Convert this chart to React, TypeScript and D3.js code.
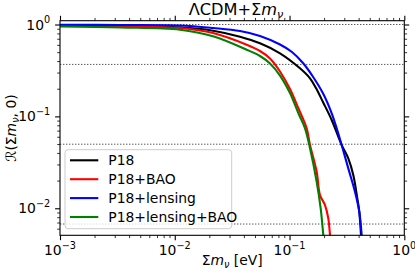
import React, { useEffect, useRef } from 'react';
import * as d3 from 'd3';

// R(Σm_ν, 0), [Σm_ν in eV, R]
const p18: [number, number][] = [
  [0.001, 0.9752], [0.003333, 0.9631], [0.01111, 0.9322], [0.02153, 0.8562], [0.03702, 0.7366],
  [0.05528, 0.6242], [0.08259, 0.4858], [0.1233, 0.3336], [0.1508, 0.2597], [0.17, 0.2036],
  [0.1956, 0.1433], [0.233, 0.09128], [0.2847, 0.04875], [0.3251, 0.03494], [0.3593, 0.02298],
  [0.3895, 0.01282], [0.4054, 0.00916], [0.4195, 0.00511], [0.4229, 0.0044],
];
const p18Bao: [number, number][] = [
  [0.001, 0.9801], [0.003333, 0.9631], [0.01111, 0.916], [0.02153, 0.8081], [0.04232, 0.6026],
  [0.05528, 0.5145], [0.06757, 0.4264], [0.08259, 0.3078], [0.1009, 0.1985], [0.1192, 0.1233],
  [0.1411, 0.07414], [0.1508, 0.04875], [0.1724, 0.02496], [0.1842, 0.01392], [0.2037, 0.01083],
  [0.2176, 0.00776], [0.2252, 0.00511], [0.2279, 0.0044],
];
const p18Lensing: [number, number][] = [
  [0.001, 0.9925], [0.003333, 0.9876], [0.01111, 0.9752], [0.02153, 0.916], [0.03702, 0.8497],
  [0.05528, 0.7496], [0.08259, 0.6056], [0.105, 0.5018], [0.131, 0.3809], [0.1601, 0.2702],
  [0.1956, 0.1782], [0.233, 0.108], [0.2576, 0.07414], [0.2847, 0.04875], [0.3251, 0.02719],
  [0.3718, 0.01512], [0.4054, 0.00916], [0.4254, 0.00511], [0.4297, 0.0044],
];
const p18LensingBao: [number, number][] = [
  [0.001, 0.9511], [0.003333, 0.9276], [0.01111, 0.8778], [0.02153, 0.744], [0.04232, 0.5316],
  [0.05528, 0.454], [0.06757, 0.3762], [0.08259, 0.2784], [0.1009, 0.1795], [0.1192, 0.1088],
  [0.1364, 0.07414], [0.1508, 0.04489], [0.1724, 0.01943], [0.1868, 0.00997], [0.1969, 0.00511],
  [0.1993, 0.0044],
];

const seriesNames = ['P18', 'P18+BAO', 'P18+lensing', 'P18+lensing+BAO'];
const seriesColors = ['#000000', '#ff0000', '#0000ff', '#008000'];
const seriesData = [p18, p18Bao, p18Lensing, p18LensingBao];

const levels = [1, 0.3679, 0.0498, 0.00674];
const xMajor = [-3, -2, -1, 0];
const yMajor = [0, -1, -2];

const left = 60, right = 404.3, top = 20.7, bottom = 235.3;
const font = "'DejaVu Sans', sans-serif";

const x = d3.scaleLog().domain([1e-3, 1]).range([left, right]);
const y = d3.scaleLog().domain([1.1, 0.00508]).range([top, bottom]);

const minors = (dom: number[]) => {
  const lo = Math.min(...dom), hi = Math.max(...dom);
  const out: number[] = [];
  for (let e = -4; e <= 0; e++)
    for (let k = 2; k <= 9; k++) {
      const v = k * Math.pow(10, e);
      if (v >= lo && v <= hi) out.push(v);
    }
  return out;
};

const App: React.FC = () => {
  const axesRef = useRef<SVGGElement | null>(null);

  useEffect(() => {
    if (!axesRef.current) return;
    const g = d3.select(axesRef.current);
    g.selectAll('*').remove();
    const add = (axis: any, transform: string, vals: number[], size: number, w: number) => {
      const a = g.append('g').attr('transform', transform)
        .call(axis.tickValues(vals).tickSize(size).tickFormat(() => ''));
      a.select('.domain').remove();
      a.selectAll('line').attr('stroke', '#000').attr('stroke-width', w);
    };
    const xm = xMajor.map(e => Math.pow(10, e));
    const ym = yMajor.map(e => Math.pow(10, e));
    add(d3.axisBottom(x), `translate(0,${bottom})`, xm, 4.9, 1.1);
    add(d3.axisBottom(x), `translate(0,${bottom})`, minors(x.domain()), 2.8, 0.8);
    add(d3.axisTop(x), `translate(0,${top})`, xm, 4.9, 1.1);
    add(d3.axisTop(x), `translate(0,${top})`, minors(x.domain()), 2.8, 0.8);
    add(d3.axisLeft(y), `translate(${left},0)`, ym, 4.9, 1.1);
    add(d3.axisLeft(y), `translate(${left},0)`, minors(y.domain()), 2.8, 0.8);
    add(d3.axisRight(y), `translate(${right},0)`, ym, 4.9, 1.1);
    add(d3.axisRight(y), `translate(${right},0)`, minors(y.domain()), 2.8, 0.8);
  }, []);

  const line = d3.line<[number, number]>().x(d => x(d[0])).y(d => y(d[1])).curve(d3.curveCatmullRom.alpha(0.5));

  return (
    <svg width={415} height={277} style={{ position: 'absolute', left: 0, top: 0 }} fontFamily={font}>
      <defs>
        <clipPath id="plot">
          <rect x={left} y={top} width={right - left} height={bottom - top} />
        </clipPath>
      </defs>
      <rect x={0} y={0} width={415} height={277} fill="#fff" />

      <g clipPath="url(#plot)">
        {levels.map((v, i) => (
          <line key={i} x1={left} x2={right} y1={y(v)} y2={y(v)}
            stroke="#444" strokeWidth={0.9} strokeDasharray="1.4 1.6" />
        ))}
        {seriesData.map((d, i) => (
          <path key={i} d={line(d) || ''} fill="none" stroke={seriesColors[i]}
            strokeWidth={2.1} strokeLinejoin="round" />
        ))}
      </g>

      <rect x={left} y={top} width={right - left} height={bottom - top}
        fill="none" stroke="#000" strokeWidth={1.1} />
      <g ref={axesRef} />

      {xMajor.map(e => (
        <text key={e} x={x(Math.pow(10, e))} y={bottom + 20} textAnchor="middle" fontSize={13.9}>
          10<tspan fontSize={9.7} dy={-6.5}>{e < 0 ? `\u2212${-e}` : `${e}`}</tspan>
        </text>
      ))}
      {yMajor.map(e => (
        <text key={e} x={left - 9.8} y={y(Math.pow(10, e)) + 5} textAnchor="end" fontSize={13.9}>
          10<tspan fontSize={9.7} dy={-6.5}>{e < 0 ? `\u2212${-e}` : `${e}`}</tspan>
        </text>
      ))}

      <text x={236} y={15} textAnchor="middle" fontSize={16.2}>
        ΛCDM+Σ<tspan fontStyle="italic">m</tspan>
        <tspan fontStyle="italic" fontSize={11.3} dy={3}>ν</tspan>
      </text>

      <text x={(left + right) / 2} y={265} textAnchor="middle" fontSize={13.9}>
        Σ<tspan fontStyle="italic">m</tspan>
        <tspan fontStyle="italic" fontSize={9.7} dy={2.5}>ν</tspan>
        <tspan dy={-2.5}> [eV]</tspan>
      </text>

      <text transform={`translate(16,${(top + bottom) / 2}) rotate(-90)`} textAnchor="middle" fontSize={13.9}>
        ℛ(Σ<tspan fontStyle="italic">m</tspan>
        <tspan fontStyle="italic" fontSize={9.7} dy={2.5}>ν</tspan>
        <tspan dy={-2.5}>, 0)</tspan>
      </text>

      <g>
        <rect x={65} y={149.7} width={166.7} height={79} rx={3} fill="#fff" fillOpacity={0.8}
          stroke="#cccccc" strokeWidth={1} />
        {seriesNames.map((name, i) => {
          const cy = 160.3 + i * 18.9;
          return (
            <g key={name}>
              <line x1={70} x2={98.3} y1={cy} y2={cy} stroke={seriesColors[i]} strokeWidth={2.1} />
              <text x={108.3} y={cy + 5} fontSize={13.9}>{name}</text>
            </g>
          );
        })}
      </g>
    </svg>
  );
};

export default App;
